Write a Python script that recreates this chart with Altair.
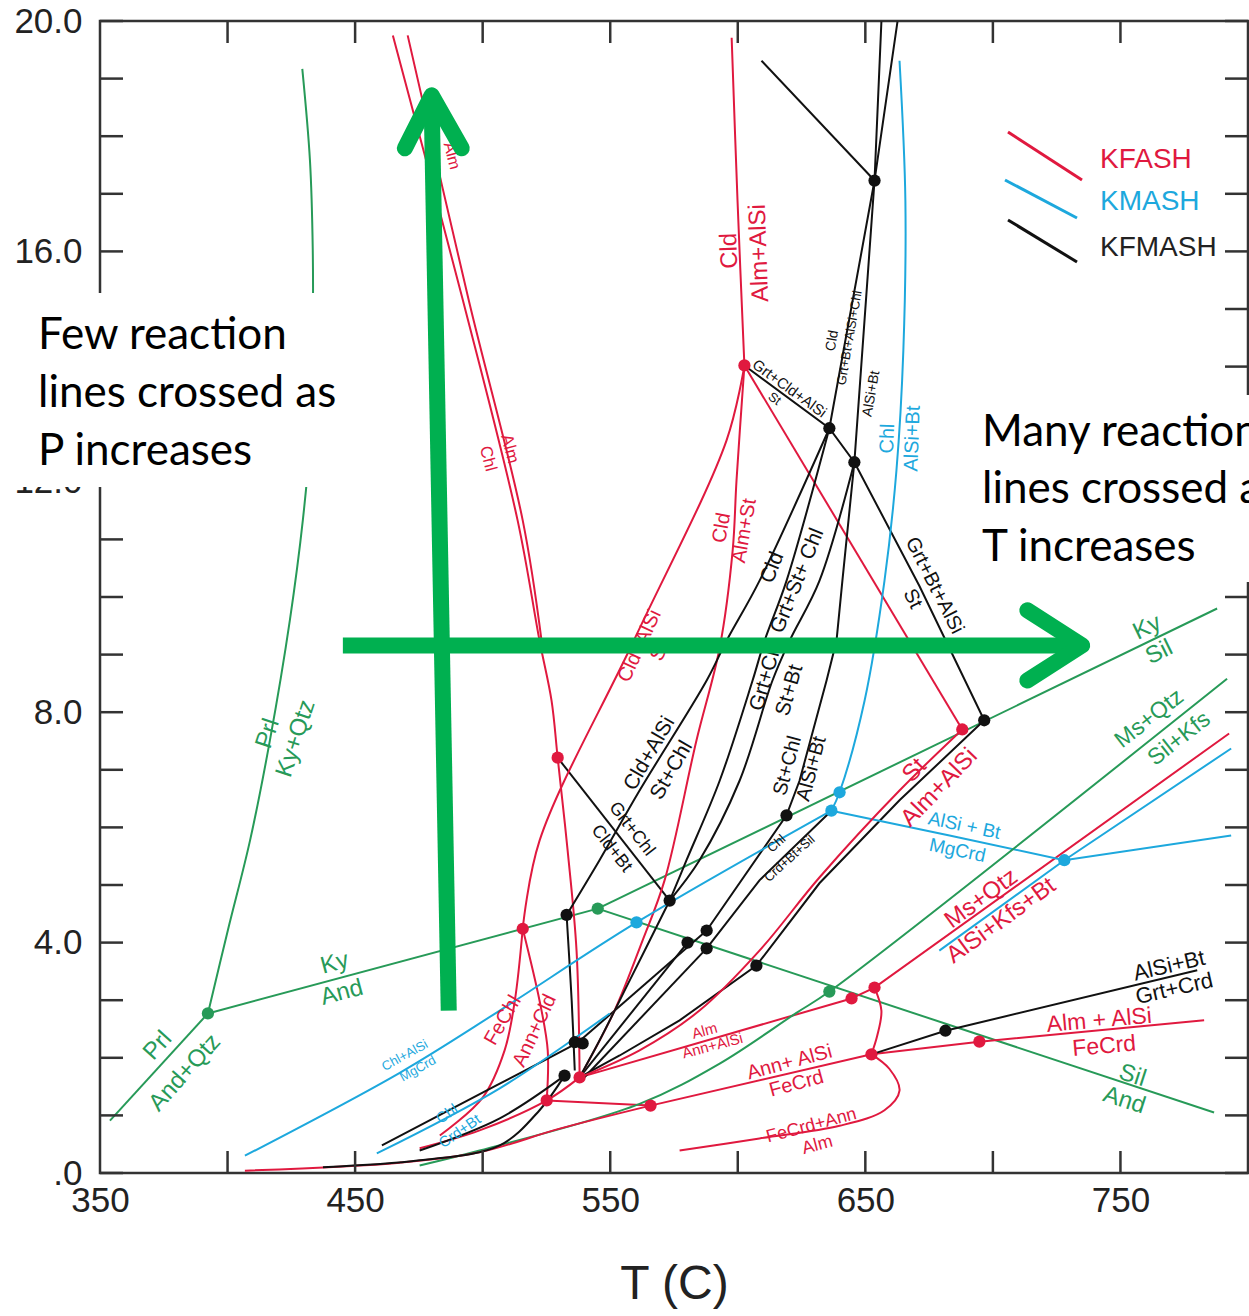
import altair as alt
import pandas as pd

# ---------------- colours ----------------
GREEN = "#279a58"
RED = "#e0193f"
BLUE = "#1da8dd"
BLACK = "#111111"
ARROW = "#00b050"

# ---------------- reaction curves (T in C, P in kbar) ----------------
# green: Al2SiO5 / Prl / Ms reactions
prl_kyqtz_T = [392.3, 400.1, 408.8, 416.6, 424.4, 429.5, 432.3, 433.4, 433.4, 432.3, 429.3]
prl_kyqtz_P = [2.77, 4.21, 5.77, 7.51, 9.59, 11.33, 12.72, 14.63, 16.02, 17.58, 19.17]
prl_andqtz_T = [353.9, 392.3]
prl_andqtz_P = [0.91, 2.77]
ky_and_T = [392.3, 545.1]
ky_and_P = [2.77, 4.59]
ky_sil_T = [545.1, 787.9]
ky_sil_P = [4.59, 9.80]
sil_and_T = [545.1, 786.7]
sil_and_P = [4.59, 1.05]
ms_qtz_T = [475.3, 498.8, 561.5, 592.9, 623.0, 635.9, 791.8]
ms_qtz_P = [0.13, 0.39, 1.20, 1.90, 2.78, 3.15, 8.58]

# red: KFASH
alm_chl1_T = [464.8, 492.2, 513.7, 522.3, 527.0, 529.4, 533.3, 536.8, 538.0]
alm_chl1_P = [19.75, 15.16, 11.33, 9.24, 8.20, 7.21, 5.60, 3.86, 1.66]
alm_chl2_T = [470.6, 494.5, 515.7, 523.1]
alm_chl2_P = [19.75, 15.16, 11.33, 9.24]
cld_almalsi_T = [597.6, 599.9, 602.6]
cld_almalsi_P = [19.71, 16.88, 14.02]
cld_st_T = [602.6, 688.0]
cld_st_P = [14.02, 7.70]
cldalsi_st_T = [602.6, 595.6, 559.2, 522.3, 515.7]
cldalsi_st_P = [14.02, 12.72, 9.24, 5.77, 4.24]
cld_almst_T = [602.6, 599.5, 598.0, 592.9, 583.8, 571.3, 562.7, 551.7, 538.0]
cld_almst_P = [14.02, 12.02, 10.81, 9.12, 7.51, 5.08, 4.04, 2.82, 1.66]
st_almalsi_T = [688.0, 663.4, 632.0, 608.5, 585.0, 561.5, 538.0]
st_almalsi_P = [7.70, 6.64, 5.13, 3.86, 2.82, 2.13, 1.66]
alm_annalsi_T = [538.0, 644.6]
alm_annalsi_P = [1.66, 3.03]
msqtz_red_T = [644.6, 653.6, 792.6]
msqtz_red_P = [3.03, 3.22, 7.63]
loop_T = [653.6, 656.3, 654.7, 652.4]
loop_P = [3.22, 2.82, 2.39, 2.06]
fecrdann_T = [577.2, 608.5, 639.9, 657.5, 663.4, 659.4, 652.4]
fecrdann_P = [0.39, 0.60, 0.82, 1.09, 1.43, 1.81, 2.06]
almalsi_fecrd_T = [652.4, 694.7, 782.8]
almalsi_fecrd_P = [2.06, 2.28, 2.65]
annalsi_fecrd_T = [565.8, 652.4]
annalsi_fecrd_P = [1.17, 2.06]
red_flat_T = [525.1, 565.8]
red_flat_P = [1.26, 1.17]
red_low_T = [475.3, 498.8, 525.1, 538.0]
red_low_P = [0.43, 0.74, 1.26, 1.66]
red_bottom_T = [406.8, 467.5, 498.8, 530.2, 565.8]
red_bottom_P = [0.04, 0.18, 0.36, 0.77, 1.17]
fechl_T = [515.7, 512.6, 508.6, 500.0, 483.2]
fechl_P = [4.24, 2.99, 2.13, 1.31, 0.65]
anncld_T = [515.7, 522.3, 525.5, 525.1]
anncld_P = [4.24, 2.99, 2.13, 1.26]

# black: KFMASH
k_top_T = [609.3, 653.6]
k_top_P = [19.31, 17.23]
k_a_T = [662.6, 653.6, 635.9]
k_a_P = [19.99, 17.23, 12.93]
k_b_T = [656.3, 653.6, 645.7]
k_b_P = [19.99, 17.23, 12.34]
grt_st_T = [602.6, 635.9, 645.7, 671.2, 696.6]
grt_st_P = [14.02, 12.93, 12.34, 10.19, 7.86]
cldalsi_stchl_T = [635.9, 608.5, 595.6, 587.8, 561.5, 545.8, 532.9]
cldalsi_stchl_P = [12.93, 10.28, 9.24, 8.55, 6.64, 5.43, 4.48]
cld_grtstchl_T = [635.9, 619.1, 610.5, 605.8, 592.9, 579.9, 573.3]
cld_grtstchl_P = [12.93, 10.28, 9.24, 8.55, 6.81, 5.43, 4.73]
grtchl_stbt_T = [645.7, 632.0, 620.3, 613.6, 600.7, 585.0, 573.3]
grtchl_stbt_P = [12.34, 10.28, 9.24, 8.55, 6.81, 5.43, 4.73]
stchl_alsibt_T = [645.7, 641.0, 638.7, 634.8, 624.2, 619.1, 587.8]
stchl_alsibt_P = [12.34, 10.28, 9.24, 8.55, 6.81, 6.21, 4.21]
chl_crdbtsil_T = [636.7, 608.5, 587.8]
chl_crdbtsil_P = [6.29, 5.08, 3.90]
k_mid_T = [573.3, 557.6, 545.8, 538.0]
k_mid_P = [4.73, 3.34, 2.30, 1.66]
grtchl_cldbt_T = [529.4, 573.3]
grtchl_cldbt_P = [7.21, 4.73]
k_vert_T = [532.9, 534.9, 536.1]
k_vert_P = [4.48, 2.99, 1.78]
k_fan1_T = [580.3, 538.0]
k_fan1_P = [4.00, 1.66]
k_fan2_T = [587.8, 537.2]
k_fan2_P = [4.21, 2.26]
k_fan3_T = [587.8, 538.8]
k_fan3_P = [3.90, 1.61]
k_st_T = [696.6, 663.4, 632.0, 607.3, 577.2, 553.7, 538.0]
k_st_P = [7.86, 6.47, 5.03, 3.60, 2.65, 2.04, 1.66]
k_low1_T = [460.5, 506.7, 537.2]
k_low1_P = [0.48, 1.55, 2.26]
k_low2_T = [475.3, 506.7, 532.1]
k_low2_P = [0.39, 0.95, 1.69]
k_bottom_T = [437.4, 475.3, 506.7, 522.3, 532.1]
k_bottom_P = [0.10, 0.22, 0.48, 1.09, 1.69]
alsibt_grtcrd_T = [652.4, 681.4, 780.1]
alsibt_grtcrd_P = [2.06, 2.47, 3.52]

# blue: KMASH
chl_alsibt_T = [663.4, 665.7, 664.9, 662.2, 657.5, 649.7, 639.9, 636.7]
chl_alsibt_P = [19.31, 16.88, 14.28, 12.20, 10.28, 8.20, 6.61, 6.29]
alsibt_mgcrd_T = [636.7, 683.0, 728.0, 793.4]
alsibt_mgcrd_P = [6.29, 5.86, 5.43, 5.86]
msqtz_blue_T = [679.0, 728.0, 793.4]
msqtz_blue_P = [3.86, 5.43, 7.37]
chlalsi_mgcrd_T = [636.7, 560.3, 506.7, 467.5, 406.8]
chlalsi_mgcrd_P = [6.29, 4.35, 2.82, 1.74, 0.30]
chl_crdbt_T = [458.5, 506.7, 549.8]
chl_crdbt_P = [0.34, 1.47, 2.77]

# invariant points
green_dot_T = [392.3, 545.1, 635.9]
green_dot_P = [2.77, 4.59, 3.15]
red_dot_T = [529.4, 515.7, 602.6, 688.0, 538.0, 525.1, 565.8, 644.6, 653.6, 652.4, 694.7]
red_dot_P = [7.21, 4.24, 14.02, 7.70, 1.66, 1.26, 1.17, 3.03, 3.22, 2.06, 2.28]
blue_dot_T = [639.9, 636.7, 560.3, 728.0]
blue_dot_P = [6.61, 6.29, 4.35, 5.43]
black_dot_T = [532.9, 536.1, 539.2, 532.1, 573.3, 580.3, 587.8, 587.8, 607.3, 619.1, 635.9, 645.7, 653.6, 696.6, 681.4]
black_dot_P = [4.48, 2.27, 2.25, 1.69, 4.73, 4.00, 4.21, 3.90, 3.60, 6.21, 12.93, 12.34, 17.23, 7.86, 2.47]

# annotation arrows
arrow_v_shaft_T = [486.7, 480.0]
arrow_v_shaft_P = [2.82, 18.60]
arrow_v_head_T = [469.5, 480.0, 491.8]
arrow_v_head_P = [17.79, 18.71, 17.79]
arrow_h_shaft_T = [445.2, 732.2]
arrow_h_shaft_P = [9.16, 9.16]
arrow_h_head_T = [713.5, 735.0, 713.5]
arrow_h_head_P = [9.77, 9.16, 8.55]

# axis ticks
x_label_vals = [350, 450, 550, 650, 750]
y_label_vals = [0, 4, 8, 12, 16, 20]
x_minor = [400, 450, 500, 550, 600, 650, 700, 750]
y_minor = list(range(0, 21))

# reaction labels: text, T, P, angle, colour, size
labels = [
    ("Prl", 372.7, 2.21, 312, GREEN, 24), ("And+Qtz", 383.3, 1.74, 312, GREEN, 24),
    ("Ky", 442.0, 3.64, 345, GREEN, 24), ("And", 444.8, 3.13, 345, GREEN, 24),
    ("Prl", 415.8, 7.63, 288, GREEN, 24), ("Ky+Qtz", 426.8, 7.54, 288, GREEN, 24),
    ("Ky", 760.5, 9.47, 334, GREEN, 24), ("Sil", 765.2, 9.04, 334, GREEN, 24),
    ("Ms+Qtz", 761.3, 7.89, 322, GREEN, 23), ("Sil+Kfs", 773.0, 7.54, 322, GREEN, 23),
    ("Sil", 754.7, 1.69, 18, GREEN, 24), ("And", 751.5, 1.26, 18, GREEN, 24),
    ("Cld", 596.8, 16.01, 268, RED, 24), ("Alm+AlSi", 608.5, 15.97, 268, RED, 24),
    ("Alm", 487.9, 17.66, 75, RED, 16),
    ("Alm", 510.6, 12.57, 75, RED, 17), ("Chl", 502.0, 12.40, 75, RED, 17),
    ("Cld", 593.7, 11.20, 280, RED, 20), ("Alm+St", 602.6, 11.15, 280, RED, 20),
    ("Cld+AlSi", 561.5, 9.15, 295, RED, 20), ("St", 569.4, 9.06, 295, RED, 20),
    ("St", 669.3, 6.99, 314, RED, 24), ("Alm+AlSi", 679.0, 6.69, 314, RED, 24),
    ("Ms+Qtz", 695.5, 4.76, 324, RED, 24), ("AlSi+Kfs+Bt", 703.3, 4.38, 324, RED, 24),
    ("Alm + AlSi", 741.7, 2.65, 355, RED, 23), ("FeCrd", 743.6, 2.20, 355, RED, 23),
    ("Ann+ AlSi", 620.3, 1.92, 345, RED, 20), ("FeCrd", 623.0, 1.55, 345, RED, 20),
    ("FeCrd+Ann", 628.9, 0.82, 345, RED, 18), ("Alm", 631.2, 0.48, 345, RED, 18),
    ("Alm", 587.0, 2.47, 345, RED, 15), ("Ann+AlSi", 590.1, 2.21, 345, RED, 15),
    ("FeChl", 507.9, 2.65, 300, RED, 20), ("Ann+Cld", 520.4, 2.47, 295, RED, 20),
    ("Cld", 613.6, 10.51, 292, BLACK, 21), ("Grt+St+ Chl", 623.4, 10.28, 292, BLACK, 21),
    ("Grt+Chl", 611.3, 8.64, 286, BLACK, 21), ("St+Bt", 620.3, 8.38, 286, BLACK, 21),
    ("Cld+AlSi", 565.4, 7.28, 300, BLACK, 21), ("St+Chl", 574.1, 6.99, 300, BLACK, 21),
    ("St+Chl", 619.5, 7.07, 285, BLACK, 20), ("AlSi+Bt", 628.9, 7.02, 285, BLACK, 20),
    ("Grt+Chl", 558.4, 5.97, 52, BLACK, 18), ("Cld+Bt", 550.5, 5.63, 52, BLACK, 18),
    ("Chl", 615.2, 5.72, 318, BLACK, 13), ("Crd+Bt+Sil", 620.3, 5.46, 318, BLACK, 13),
    ("Grt+Cld+AlSi", 620.3, 13.62, 36, BLACK, 15), ("St", 614.4, 13.44, 36, BLACK, 13),
    ("Cld", 637.1, 14.45, 280, BLACK, 14), ("Grt+Bt+AlSi+Chl", 643.8, 14.50, 280, BLACK, 13),
    ("AlSi+Bt", 652.4, 13.53, 280, BLACK, 14),
    ("Grt+Bt+AlSi", 677.1, 10.20, 63, BLACK, 20), ("St", 668.5, 9.97, 63, BLACK, 20),
    ("AlSi+Bt", 769.1, 3.60, 347, BLACK, 22), ("Grt+Crd", 771.1, 3.20, 347, BLACK, 22),
    ("Chl", 658.7, 12.75, 272, BLUE, 20), ("AlSi+Bt", 668.5, 12.75, 272, BLUE, 20),
    ("AlSi + Bt", 688.8, 6.03, 12, BLUE, 19), ("MgCrd", 686.1, 5.60, 12, BLUE, 19),
    ("Chl+AlSi", 469.5, 2.04, 331, BLUE, 13), ("MgCrd", 474.6, 1.81, 331, BLUE, 13),
    ("Chl", 486.0, 1.03, 325, BLUE, 15), ("Crd+Bt", 491.0, 0.73, 325, BLUE, 15),
]

# ---------------- build tables ----------------
curves = [
    ("prl_kyqtz", GREEN, True, prl_kyqtz_T, prl_kyqtz_P),
    ("prl_andqtz", GREEN, False, prl_andqtz_T, prl_andqtz_P),
    ("ky_and", GREEN, False, ky_and_T, ky_and_P),
    ("ky_sil", GREEN, False, ky_sil_T, ky_sil_P),
    ("sil_and", GREEN, False, sil_and_T, sil_and_P),
    ("ms_qtz", GREEN, True, ms_qtz_T, ms_qtz_P),
    ("alm_chl1", RED, True, alm_chl1_T, alm_chl1_P),
    ("alm_chl2", RED, True, alm_chl2_T, alm_chl2_P),
    ("cld_almalsi", RED, True, cld_almalsi_T, cld_almalsi_P),
    ("cld_st", RED, False, cld_st_T, cld_st_P),
    ("cldalsi_st", RED, True, cldalsi_st_T, cldalsi_st_P),
    ("cld_almst", RED, True, cld_almst_T, cld_almst_P),
    ("st_almalsi", RED, True, st_almalsi_T, st_almalsi_P),
    ("alm_annalsi", RED, False, alm_annalsi_T, alm_annalsi_P),
    ("msqtz_red", RED, False, msqtz_red_T, msqtz_red_P),
    ("loop", RED, True, loop_T, loop_P),
    ("fecrdann", RED, True, fecrdann_T, fecrdann_P),
    ("almalsi_fecrd", RED, False, almalsi_fecrd_T, almalsi_fecrd_P),
    ("annalsi_fecrd", RED, False, annalsi_fecrd_T, annalsi_fecrd_P),
    ("red_flat", RED, False, red_flat_T, red_flat_P),
    ("red_low", RED, True, red_low_T, red_low_P),
    ("red_bottom", RED, True, red_bottom_T, red_bottom_P),
    ("fechl", RED, True, fechl_T, fechl_P),
    ("anncld", RED, True, anncld_T, anncld_P),
    ("k_top", BLACK, False, k_top_T, k_top_P),
    ("k_a", BLACK, False, k_a_T, k_a_P),
    ("k_b", BLACK, False, k_b_T, k_b_P),
    ("grt_st", BLACK, False, grt_st_T, grt_st_P),
    ("cldalsi_stchl", BLACK, True, cldalsi_stchl_T, cldalsi_stchl_P),
    ("cld_grtstchl", BLACK, True, cld_grtstchl_T, cld_grtstchl_P),
    ("grtchl_stbt", BLACK, True, grtchl_stbt_T, grtchl_stbt_P),
    ("stchl_alsibt", BLACK, False, stchl_alsibt_T, stchl_alsibt_P),
    ("chl_crdbtsil", BLACK, False, chl_crdbtsil_T, chl_crdbtsil_P),
    ("k_mid", BLACK, True, k_mid_T, k_mid_P),
    ("grtchl_cldbt", BLACK, False, grtchl_cldbt_T, grtchl_cldbt_P),
    ("k_vert", BLACK, True, k_vert_T, k_vert_P),
    ("k_fan1", BLACK, False, k_fan1_T, k_fan1_P),
    ("k_fan2", BLACK, False, k_fan2_T, k_fan2_P),
    ("k_fan3", BLACK, False, k_fan3_T, k_fan3_P),
    ("k_st", BLACK, False, k_st_T, k_st_P),
    ("k_low1", BLACK, True, k_low1_T, k_low1_P),
    ("k_low2", BLACK, True, k_low2_T, k_low2_P),
    ("k_bottom", BLACK, True, k_bottom_T, k_bottom_P),
    ("alsibt_grtcrd", BLACK, False, alsibt_grtcrd_T, alsibt_grtcrd_P),
    ("chl_alsibt", BLUE, True, chl_alsibt_T, chl_alsibt_P),
    ("alsibt_mgcrd", BLUE, False, alsibt_mgcrd_T, alsibt_mgcrd_P),
    ("msqtz_blue", BLUE, False, msqtz_blue_T, msqtz_blue_P),
    ("chlalsi_mgcrd", BLUE, True, chlalsi_mgcrd_T, chlalsi_mgcrd_P),
    ("chl_crdbt", BLUE, True, chl_crdbt_T, chl_crdbt_P),
]

rows = []
for name, col, smooth, Ts, Ps in curves:
    for i, (t, p) in enumerate(zip(Ts, Ps)):
        rows.append(dict(id=name, col=col, smooth=smooth, i=i, T=t, P=p))
curve_df = pd.DataFrame(rows)

dot_rows = []
for col, Ts, Ps in [(GREEN, green_dot_T, green_dot_P), (RED, red_dot_T, red_dot_P),
                    (BLUE, blue_dot_T, blue_dot_P), (BLACK, black_dot_T, black_dot_P)]:
    for t, p in zip(Ts, Ps):
        dot_rows.append(dict(col=col, T=t, P=p))
dot_df = pd.DataFrame(dot_rows)

label_df = pd.DataFrame(labels, columns=["text", "T", "P", "angle", "col", "size"])


def seg_df(name, Ts, Ps):
    return pd.DataFrame({"id": name, "i": range(len(Ts)), "T": Ts, "P": Ps})


shaft_df = pd.concat([seg_df("v", arrow_v_shaft_T, arrow_v_shaft_P),
                      seg_df("h", arrow_h_shaft_T, arrow_h_shaft_P)])
head_df = pd.concat([seg_df("v", arrow_v_head_T, arrow_v_head_P),
                     seg_df("h", arrow_h_head_T, arrow_h_head_P)])

W, H = 1148, 1152
xs = alt.Scale(domain=[350, 800], nice=False, zero=False)
ys = alt.Scale(domain=[0, 20], nice=False, zero=False)
FONT = "Liberation Sans"
xaxis = alt.Axis(values=x_label_vals, ticks=False, tickSize=0, domain=False, grid=False,
                 labelFont=FONT, labelFontSize=35, labelColor="#222", labelPadding=10,
                 labelFlush=False, labelOverlap=False,
                 title="T (C)", titleFont=FONT, titleFontSize=48, titleFontWeight="normal",
                 titleColor="#222", titlePadding=42)
yaxis = alt.Axis(values=y_label_vals, ticks=False, tickSize=0, domain=False, grid=False,
                 labelFont=FONT, labelFontSize=35, labelColor="#222", labelPadding=18,
                 labelFlush=False, labelOverlap=False,
                 labelExpr="datum.value == 0 ? '.0' : format(datum.value, '.1f')", title="")
X = alt.X("T:Q", scale=xs, axis=xaxis)
Y = alt.Y("P:Q", scale=ys, axis=yaxis)

base = alt.Chart(curve_df)
smooth_lines = base.transform_filter("datum.smooth").mark_line(
    strokeWidth=2, interpolate="catmull-rom").encode(
    x=X, y=Y, detail="id:N", order="i:Q", color=alt.Color("col:N", scale=None))
straight_lines = base.transform_filter("!datum.smooth").mark_line(
    strokeWidth=2).encode(
    x=X, y=Y, detail="id:N", order="i:Q", color=alt.Color("col:N", scale=None))

dots = alt.Chart(dot_df).mark_circle(size=150, opacity=1).encode(
    x=X, y=Y, color=alt.Color("col:N", scale=None))

texts = alt.Chart(label_df).mark_text(font=FONT, align="center", baseline="middle").encode(
    x=X, y=Y, text="text:N", angle=alt.Angle("angle:Q", scale=None),
    size=alt.Size("size:Q", scale=None), color=alt.Color("col:N", scale=None))

# frame ticks (inward)
ytick_df = pd.DataFrame({"P": y_minor})
xtick_df = pd.DataFrame({"T": x_minor})
tick_style = dict(color="#333", strokeWidth=2.5)
left_ticks = alt.Chart(ytick_df).mark_rule(**tick_style).encode(
    y=Y, x=alt.value(0), x2=alt.value(23))
right_ticks = alt.Chart(ytick_df).mark_rule(**tick_style).encode(
    y=Y, x=alt.value(W - 23), x2=alt.value(W))
top_ticks = alt.Chart(xtick_df).mark_rule(**tick_style).encode(
    x=X, y=alt.value(0), y2=alt.value(22))
bottom_ticks = alt.Chart(xtick_df).mark_rule(**tick_style).encode(
    x=X, y=alt.value(H), y2=alt.value(H - 22))

# legend (drawn by hand as in the figure)
one = pd.DataFrame({"k": [0]})
legend_layers = []
for (x1, y1, x2, y2, col, name, ty) in [
        (908, 111, 982, 159, RED, "KFASH", 139),
        (905, 159, 977, 197, BLUE, "KMASH", 181),
        (908, 199, 977, 241, BLACK, "KFMASH", 227)]:
    legend_layers.append(alt.Chart(one).mark_rule(color=col, strokeWidth=3).encode(
        x=alt.value(x1), y=alt.value(y1), x2=alt.value(x2), y2=alt.value(y2)))
    legend_layers.append(alt.Chart(one).mark_text(
        text=name, font=FONT, fontSize=28, color=col if col != BLACK else "#222",
        align="left", baseline="middle").encode(x=alt.value(1000), y=alt.value(ty)))

# green arrows
shafts = alt.Chart(shaft_df).mark_line(color=ARROW, strokeWidth=16, strokeCap="butt").encode(
    x=X, y=Y, detail="id:N", order="i:Q")
heads = alt.Chart(head_df).mark_line(color=ARROW, strokeWidth=16, strokeCap="round",
                                     strokeJoin="round").encode(
    x=X, y=Y, detail="id:N", order="i:Q")

# white annotation boxes with text
box_left = alt.Chart(one).mark_rect(color="white").encode(
    x=alt.value(-100), x2=alt.value(250), y=alt.value(272), y2=alt.value(466))
box_right = alt.Chart(one).mark_rect(color="white").encode(
    x=alt.value(875), x2=alt.value(1160), y=alt.value(374), y2=alt.value(561))
note_layers = []
for txt, xx, yy in [("Few reaction", -62, 328), ("lines crossed as", -62, 386),
                    ("P increases", -62, 444),
                    ("Many reaction", 882, 425), ("lines crossed as", 882, 482),
                    ("T increases", 882, 540)]:
    note_layers.append(alt.Chart(one).mark_text(
        text=txt, font="Lato", fontSize=44, color="black", align="left",
        baseline="alphabetic").encode(x=alt.value(xx), y=alt.value(yy)))

chart = alt.layer(
    straight_lines, smooth_lines, dots, texts,
    left_ticks, right_ticks, top_ticks, bottom_ticks,
    *legend_layers, shafts, heads, box_left, box_right, *note_layers
).properties(
    width=W, height=H,
    autosize=alt.AutoSizeParams(type="none"),
    padding={"left": 100, "top": 21, "right": 1, "bottom": 143},
    background="white",
).configure_view(stroke="#333", strokeWidth=2.5)

chart.save("out.html", embed_options={"renderer": "svg", "actions": False})
